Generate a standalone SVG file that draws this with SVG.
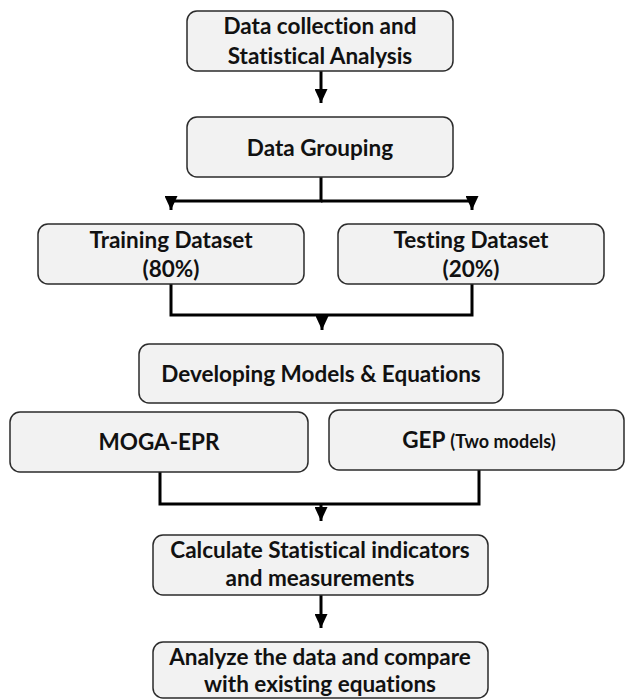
<svg xmlns="http://www.w3.org/2000/svg" width="625" height="700" viewBox="0 0 625 700">
<style>
.box{fill:#f2f2f2;stroke:#2b2b2b;stroke-width:1.5}
.t{font-family:Lato,"Liberation Sans",sans-serif;font-weight:bold;font-size:22.5px;fill:#111;text-anchor:middle;font-variant-ligatures:none}
.s{font-size:18px}
.c{fill:none;stroke:#000;stroke-width:3}
</style>
<defs>
<marker id="ah" markerUnits="userSpaceOnUse" markerWidth="13" markerHeight="14" viewBox="0 0 13 14" refX="6.5" refY="14" orient="0">
<path d="M0 0 L13 0 L6.5 14 Z" fill="#000"/>
</marker>
</defs>
<rect width="625" height="700" fill="#fff"/>
<g id="connectors">
<path class="c" d="M321 71 V103" marker-end="url(#ah)"/>
<path class="c" d="M321 177 V201 H171 V210" marker-end="url(#ah)"/>
<path class="c" d="M321 201 H472 V210" marker-end="url(#ah)"/>
<path class="c" d="M171 284 V315 H472 V284"/>
<path class="c" d="M322 315 V330" marker-end="url(#ah)"/>
<path class="c" d="M160 472 V504 H479 V470"/>
<path class="c" d="M321 504 V521" marker-end="url(#ah)"/>
<path class="c" d="M321 595 V628" marker-end="url(#ah)"/>
</g>
<g id="n1"><rect class="box" x="187" y="11" width="266" height="60" rx="10"/>
<text class="t" x="320" y="34">Data collection and</text><text class="t" x="320" y="64">Statistical Analysis</text></g>
<g id="n2"><rect class="box" x="187" y="117" width="266" height="60" rx="10"/>
<text class="t" x="320" y="156">Data Grouping</text></g>
<g id="n3"><rect class="box" x="38" y="224" width="266" height="60" rx="10"/>
<text class="t" x="171" y="248">Training Dataset</text><text class="t" x="171" y="277">(80%)</text></g>
<g id="n4"><rect class="box" x="338" y="224" width="266" height="60" rx="10"/>
<text class="t" x="471" y="248">Testing Dataset</text><text class="t" x="471" y="277">(20%)</text></g>
<g id="n5"><rect class="box" x="139" y="344" width="364" height="59" rx="10"/>
<text class="t" x="321" y="382">Developing Models &amp; Equations</text></g>
<g id="n6"><rect class="box" x="10" y="412" width="298" height="60" rx="10"/>
<text class="t" x="159" y="450">MOGA-EPR</text></g>
<g id="n7"><rect class="box" x="329" y="410" width="295" height="60" rx="10"/>
<text class="t" x="479" y="448">GEP <tspan class="s">(Two models)</tspan></text></g>
<g id="n8"><rect class="box" x="153" y="535" width="335" height="60" rx="10"/>
<text class="t" x="320" y="558">Calculate Statistical indicators</text><text class="t" x="320" y="586">and measurements</text></g>
<g id="n9"><rect class="box" x="153" y="642" width="335" height="56" rx="10"/>
<text class="t" x="320" y="665">Analyze the data and compare</text><text class="t" x="320" y="692">with existing equations</text></g>
</svg>
